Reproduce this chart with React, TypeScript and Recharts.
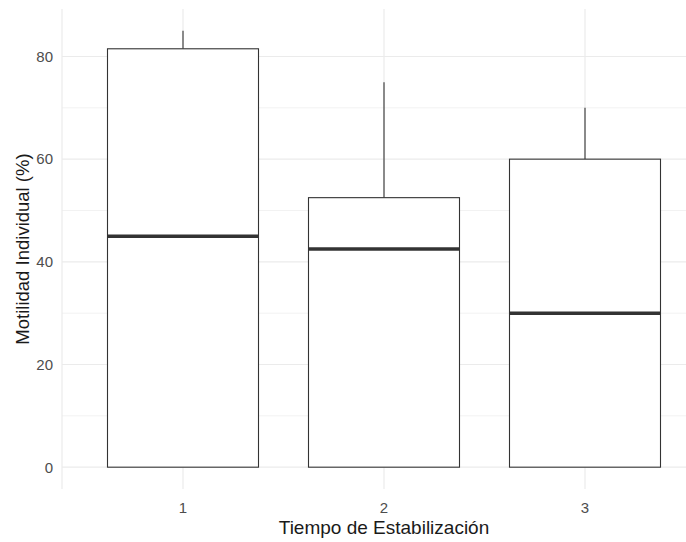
import { ComposedChart, Bar, XAxis, YAxis, CartesianGrid } from 'recharts';

// Tiempo de Estabilización vs Motilidad Individual (%)
const categories = ['1', '2', '3'];
const lowerWhisker = [0, 0, 0];
const q1 = [0, 0, 0];
const median = [45, 42.5, 30];
const q3 = [81.5, 52.5, 60];
const upperWhisker = [85, 75, 70];

const majorTicks = [0, 20, 40, 60, 80];
const minorTicks = [10, 30, 50, 70];

const data = categories.map((cat, i) => ({
  cat,
  box: [q1[i], q3[i]],
  lo: lowerWhisker[i],
  q1: q1[i],
  med: median[i],
  q3: q3[i],
  hi: upperWhisker[i],
}));

const INK = '#333333';

interface BoxShapeProps {
  x?: number;
  y?: number;
  width?: number;
  height?: number;
  payload?: { lo: number; q1: number; med: number; q3: number; hi: number };
}

function BoxShape({ x = 0, y = 0, width = 0, height = 0, payload }: BoxShapeProps) {
  if (!payload) return null;
  const { lo, q1: b, med, q3: t, hi } = payload;
  // pixels per unit, taken from the bar the y scale produced
  const k = height / (t - b);
  const cx = x + width / 2;
  const yMed = y + (t - med) * k;
  const yHi = y - (hi - t) * k;
  const yLo = y + height + (b - lo) * k;
  return (
    <g>
      <line x1={cx} x2={cx} y1={yHi} y2={y} stroke={INK} strokeWidth={1.1} />
      {yLo > y + height && <line x1={cx} x2={cx} y1={y + height} y2={yLo} stroke={INK} strokeWidth={1.1} />}
      <rect x={x} y={y} width={width} height={height} fill="#ffffff" stroke={INK} strokeWidth={1.1} />
      <line x1={x} x2={x + width} y1={yMed} y2={yMed} stroke={INK} strokeWidth={3.5} />
    </g>
  );
}

export default function App() {
  return (
    <div style={{ position: 'absolute', left: 0, top: 0, width: 686, height: 542, overflow: 'hidden', background: '#fff' }}>
      <ComposedChart
        width={720}
        height={542}
        data={data}
        margin={{ top: 9, right: 14, bottom: 0, left: 0 }}
        style={{ fontFamily: '"Liberation Sans", Arial, sans-serif' }}
      >
        <CartesianGrid horizontalValues={minorTicks} vertical={false} stroke="#f2f2f2" strokeWidth={1} />
        <CartesianGrid horizontalValues={majorTicks} stroke="#ebebeb" strokeWidth={1.2} />
        <XAxis
          dataKey="cat"
          type="category"
          height={53}
          padding={{ left: 20.5, right: 20.5 }}
          axisLine={false}
          tickLine={false}
          tickSize={0}
          tickMargin={13}
          tick={{ fill: '#4d4d4d', fontSize: 15 }}
          label={{ value: 'Tiempo de Estabilización', position: 'insideBottom', offset: 8, fill: '#1a1a1a', fontSize: 19 }}
        />
        <YAxis
          type="number"
          domain={[-4.25, 89.25]}
          ticks={majorTicks}
          width={62}
          axisLine={false}
          tickLine={false}
          tickSize={0}
          tickMargin={9}
          tick={{ fill: '#4d4d4d', fontSize: 15 }}
          label={{ value: 'Motilidad Individual (%)', angle: -90, position: 'insideLeft', offset: 22, fill: '#1a1a1a', fontSize: 18.5, style: { textAnchor: 'middle' } }}
        />
        <Bar dataKey="box" barSize={151} shape={<BoxShape />} isAnimationActive={false} />
      </ComposedChart>
    </div>
  );
}
